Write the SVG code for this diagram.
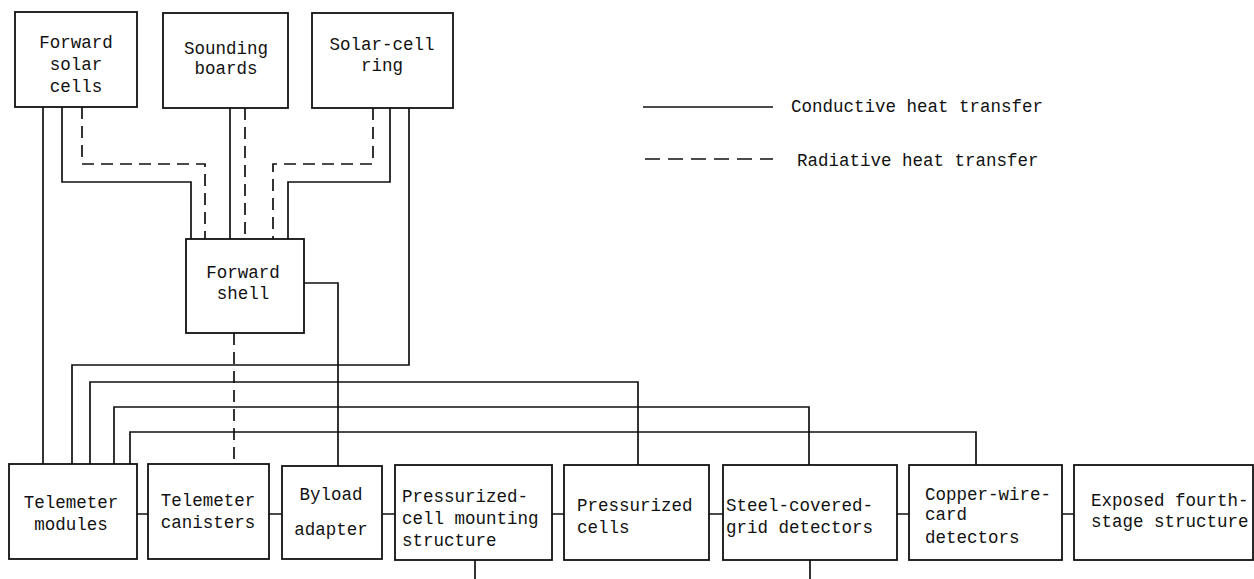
<svg xmlns="http://www.w3.org/2000/svg" width="1254" height="579" viewBox="0 0 1254 579">
<style>
.box{fill:#fff;stroke:#111;stroke-width:1.8}
.c{fill:none;stroke:#111;stroke-width:1.7}
.r{fill:none;stroke:#111;stroke-width:1.7;stroke-dasharray:12 7}
.t{font-family:"Liberation Mono","DejaVu Sans Mono",monospace;font-size:17.5px;fill:#111}
.m{text-anchor:middle}
</style>
<rect width="1254" height="579" fill="#fff"/>
<g id="connectors">
<path class="c" d="M43,107V464"/>
<path class="c" d="M62,107V182H191V239"/>
<path class="r" d="M82,107V164H205V239"/>
<path class="c" d="M230,108V239"/>
<path class="r" d="M245,108V239"/>
<path class="r" d="M373,108V164H273V239"/>
<path class="c" d="M390,108V182H288V239"/>
<path class="c" d="M409,108V365H72V464"/>
<path class="c" d="M304,283H338V466"/>
<path class="r" d="M234,333V464"/>
<path class="c" d="M90,464V382H638V465"/>
<path class="c" d="M114,464V407H809V465"/>
<path class="c" d="M130,464V432H976V465"/>
<path class="c" d="M137,514H148M269,514H282M382,514H395M552,514H564M709,514H723M897,514H909M1062,514H1074"/>
<path class="c" d="M475,560V579M810,560V579"/>
</g>
<g id="legend">
<path class="c" d="M643,107H773"/>
<text class="t" x="791" y="112">Conductive heat transfer</text>
<path class="c" d="M645,159H773" style="stroke-dasharray:15 8"/>
<text class="t" x="797" y="166">Radiative heat transfer</text>
</g>
<g id="forward-solar-cells">
<rect class="box" x="15" y="12" width="122" height="95"/>
<text class="t m" x="76" y="48">Forward</text>
<text class="t m" x="76" y="70">solar</text>
<text class="t m" x="76" y="92">cells</text>
</g>
<g id="sounding-boards">
<rect class="box" x="163" y="13" width="125" height="95"/>
<text class="t m" x="226" y="54">Sounding</text>
<text class="t m" x="226" y="74">boards</text>
</g>
<g id="solar-cell-ring">
<rect class="box" x="312" y="13" width="141" height="95"/>
<text class="t m" x="382" y="50">Solar-cell</text>
<text class="t m" x="382" y="71">ring</text>
</g>
<g id="forward-shell">
<rect class="box" x="186" y="239" width="118" height="94"/>
<text class="t m" x="243" y="278">Forward</text>
<text class="t m" x="243" y="299">shell</text>
</g>
<g id="telemeter-modules">
<rect class="box" x="9" y="464" width="128" height="95"/>
<text class="t m" x="71" y="508">Telemeter</text>
<text class="t m" x="71" y="530">modules</text>
</g>
<g id="telemeter-canisters">
<rect class="box" x="148" y="464" width="121" height="95"/>
<text class="t m" x="208" y="506">Telemeter</text>
<text class="t m" x="208" y="528">canisters</text>
</g>
<g id="byload-adapter">
<rect class="box" x="282" y="466" width="100" height="93"/>
<text class="t m" x="331" y="500">Byload</text>
<text class="t m" x="331" y="535">adapter</text>
</g>
<g id="pressurized-cell-mounting-structure">
<rect class="box" x="395" y="465" width="157" height="95"/>
<text class="t" x="402" y="502">Pressurized-</text>
<text class="t" x="402" y="524">cell mounting</text>
<text class="t" x="402" y="546">structure</text>
</g>
<g id="pressurized-cells">
<rect class="box" x="564" y="465" width="145" height="95"/>
<text class="t" x="577" y="511">Pressurized</text>
<text class="t" x="577" y="533">cells</text>
</g>
<g id="steel-covered-grid-detectors">
<rect class="box" x="723" y="465" width="174" height="95"/>
<text class="t" x="726" y="511">Steel-covered-</text>
<text class="t" x="726" y="533">grid detectors</text>
</g>
<g id="copper-wire-card-detectors">
<rect class="box" x="909" y="465" width="153" height="95"/>
<text class="t" x="925" y="500">Copper-wire-</text>
<text class="t" x="925" y="520">card</text>
<text class="t" x="925" y="543">detectors</text>
</g>
<g id="exposed-fourth-stage-structure">
<rect class="box" x="1074" y="465" width="179" height="95"/>
<text class="t" x="1091" y="506">Exposed fourth-</text>
<text class="t" x="1091" y="527">stage structure</text>
</g>
</svg>
